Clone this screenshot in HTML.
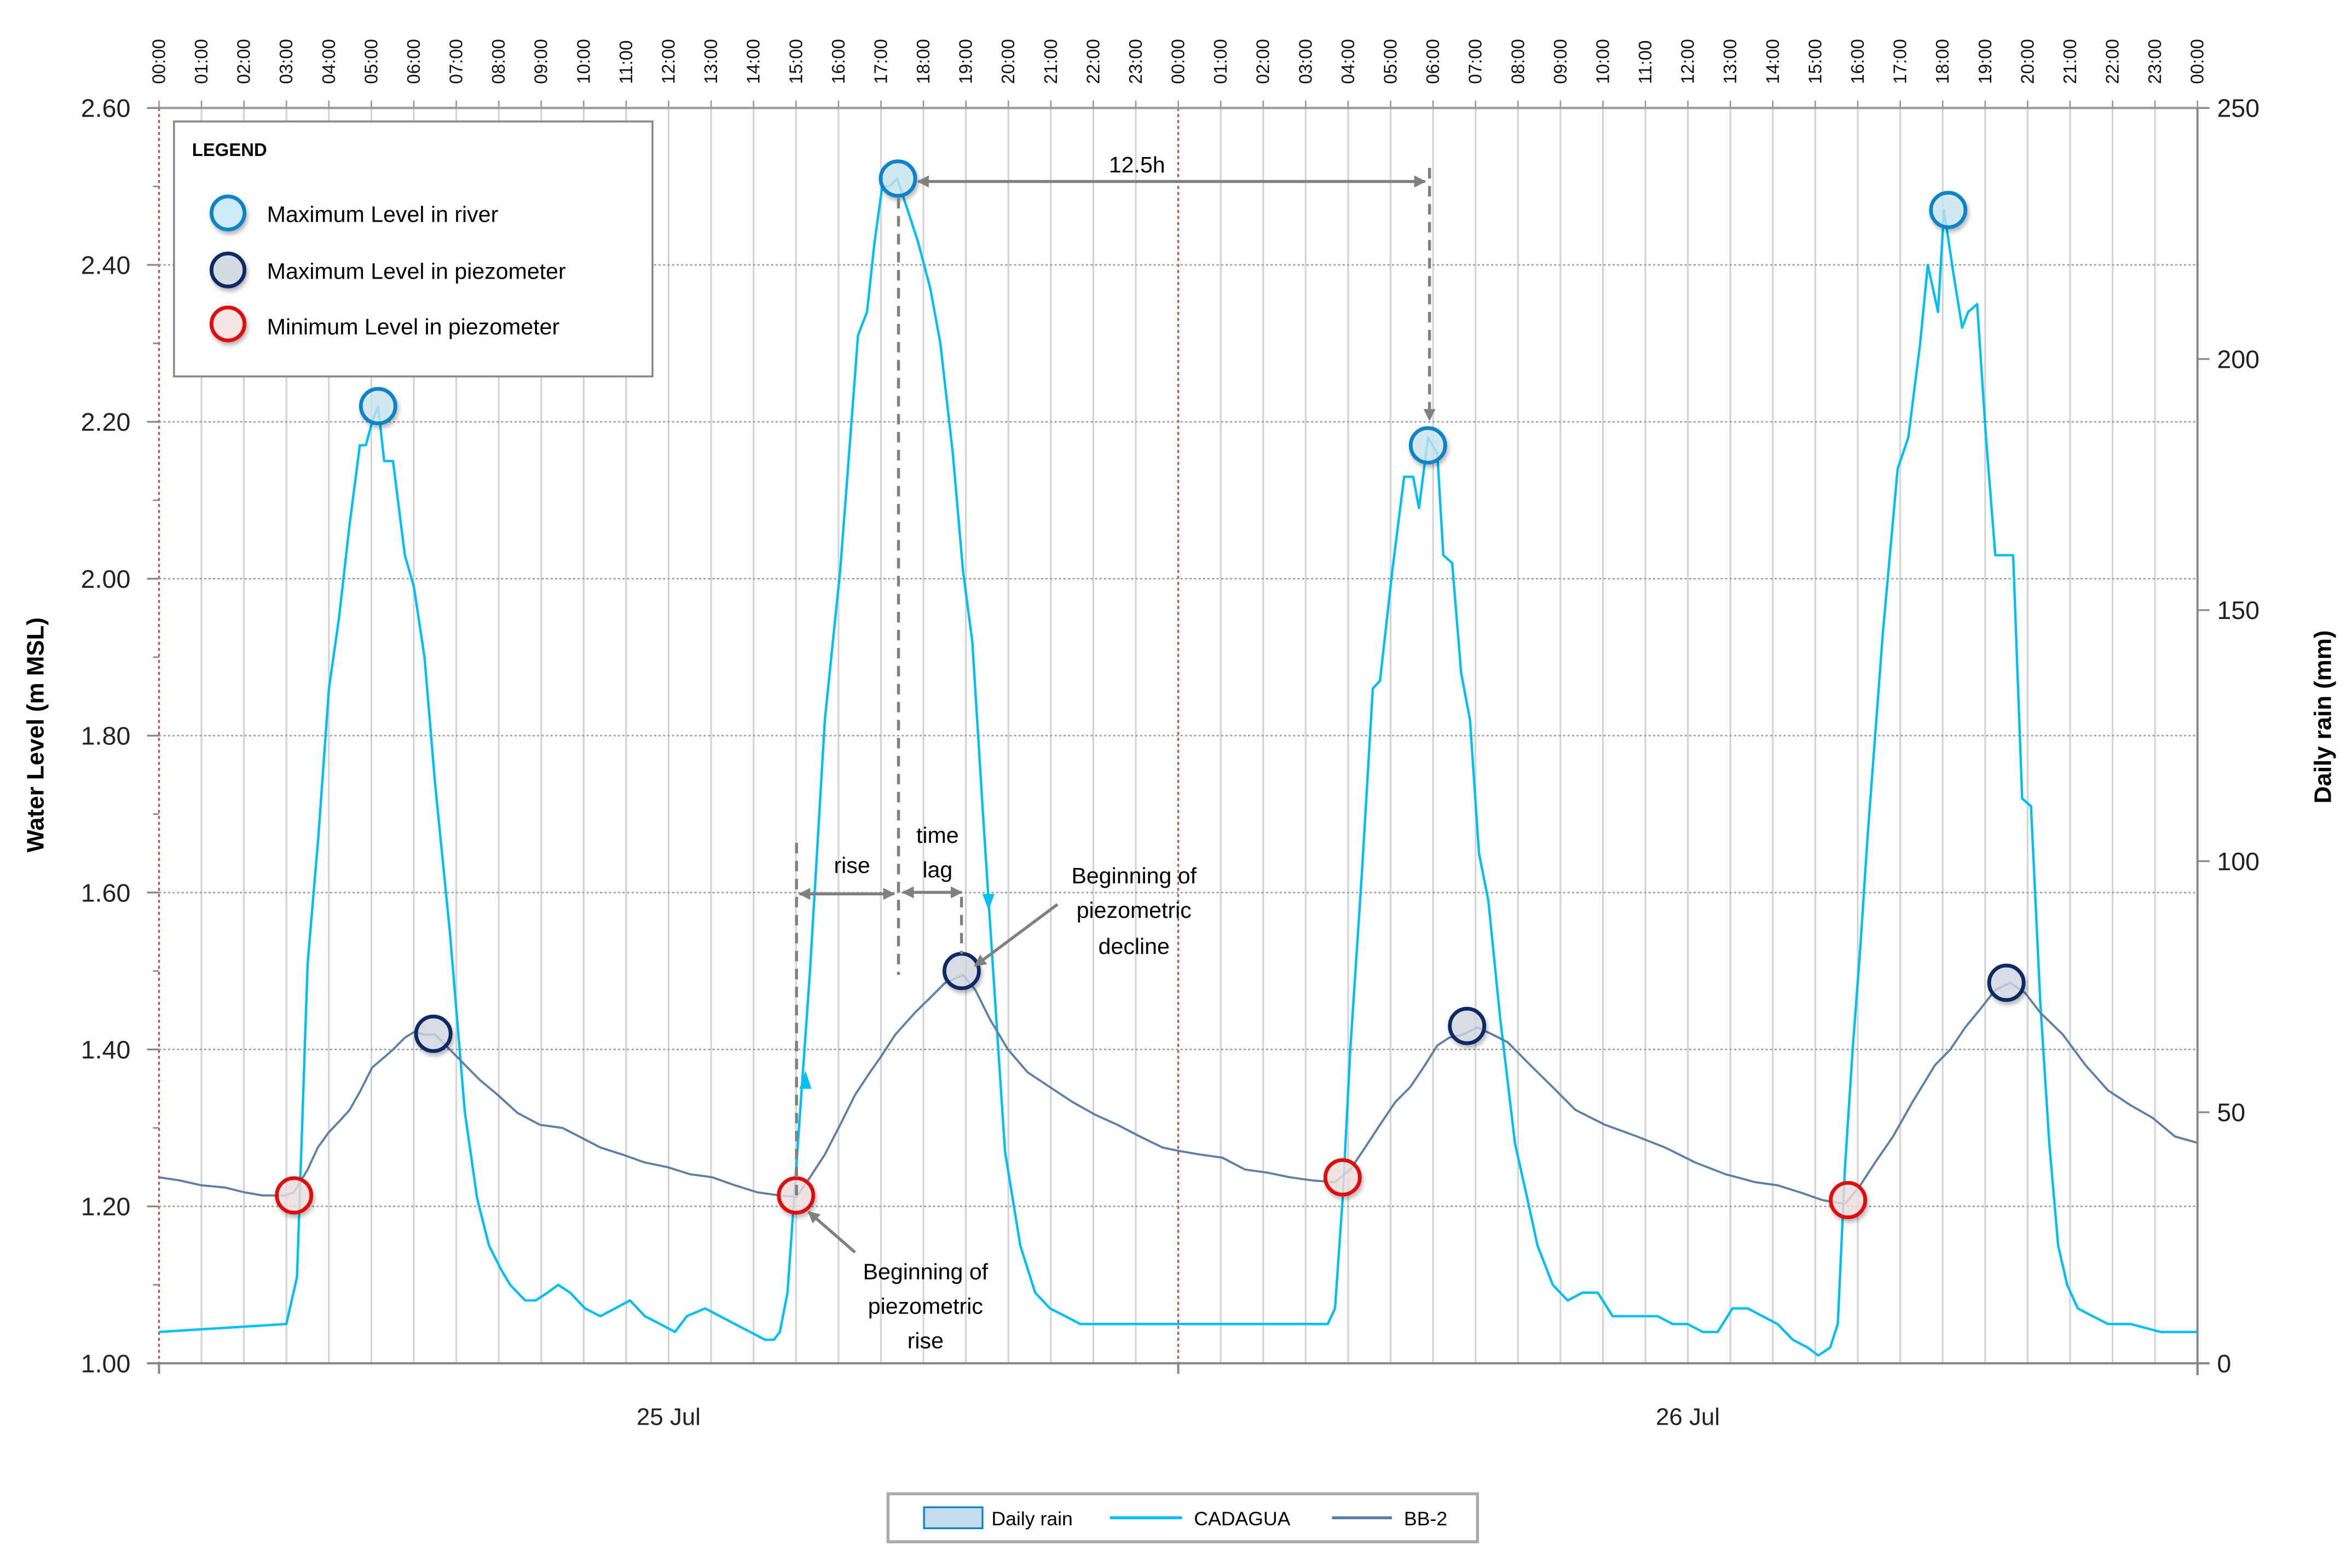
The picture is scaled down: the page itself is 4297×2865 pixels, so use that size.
<!DOCTYPE html>
<html><head><meta charset="utf-8"><style>
html,body{margin:0;padding:0;background:#fff;}
svg{display:block;}
text{font-family:"Liberation Sans",sans-serif;}
</style></head><body>
<svg id="chart" width="4297" height="2865" viewBox="0 0 1568 1045.5" preserveAspectRatio="none" xmlns="http://www.w3.org/2000/svg">
<defs>
<marker id="ga" viewBox="0 0 10 10" refX="9" refY="5" markerWidth="4" markerHeight="4" orient="auto-start-reverse"><path d="M0,0 L10,5 L0,10 z" fill="#808080"/></marker>
<filter id="sh" x="-50%" y="-50%" width="200%" height="200%"><feDropShadow dx="1" dy="2" stdDeviation="1.5" flood-color="#000" flood-opacity="0.3"/></filter>
</defs>
<g id="grid"></g>
<g id="series"></g>
<g id="markers"></g>
<g id="axes"></g>
<g id="annot">
  <line x1="531" y1="562" x2="531" y2="797" stroke="#808080" stroke-width="2" stroke-dasharray="7,5"/>
  <line x1="599" y1="132" x2="599" y2="650" stroke="#808080" stroke-width="2" stroke-dasharray="7,5"/>
  <line x1="641" y1="598" x2="641" y2="636" stroke="#808080" stroke-width="2" stroke-dasharray="7,5"/>
  <line x1="953" y1="112" x2="953" y2="280" stroke="#808080" stroke-width="2" stroke-dasharray="7,5" marker-end="url(#ga)"/>
  <line x1="533" y1="596" x2="596" y2="596" stroke="#808080" stroke-width="2" marker-start="url(#ga)" marker-end="url(#ga)"/>
  <line x1="602" y1="595" x2="641" y2="595" stroke="#808080" stroke-width="2" marker-start="url(#ga)" marker-end="url(#ga)"/>
  <line x1="612" y1="121" x2="950" y2="121" stroke="#808080" stroke-width="2" marker-start="url(#ga)" marker-end="url(#ga)"/>
  <line x1="705" y1="603" x2="650" y2="644" stroke="#808080" stroke-width="2" marker-end="url(#ga)"/>
  <line x1="570" y1="835" x2="539" y2="808" stroke="#808080" stroke-width="2" marker-end="url(#ga)"/>
  <path d="M537,714 L533,726 L541,726 z" fill="#00bff3"/>
  <path d="M659,607 L655,596 L663,596 z" fill="#00bff3"/>
  <text x="568" y="582" font-size="15" text-anchor="middle">rise</text>
  <text x="625" y="562" font-size="15" text-anchor="middle">time</text>
  <text x="625" y="585" font-size="15" text-anchor="middle">lag</text>
  <text x="758" y="115" font-size="15" text-anchor="middle">12.5h</text>
  <text font-size="15" text-anchor="middle"><tspan x="756" y="589">Beginning of</tspan><tspan x="756" y="612">piezometric</tspan><tspan x="756" y="636">decline</tspan></text>
  <text font-size="15" text-anchor="middle"><tspan x="617" y="853">Beginning of</tspan><tspan x="617" y="876">piezometric</tspan><tspan x="617" y="899">rise</tspan></text>
</g>
<g id="legend">
  <rect x="116" y="81" width="319" height="170" fill="#fff" stroke="#888" stroke-width="1.3"/>
  <text x="128" y="104" font-size="12" font-weight="bold">LEGEND</text>
  <circle cx="152" cy="142" r="11" fill="#cdeaf5" stroke="#0a84c8" stroke-width="2.5" filter="url(#sh)"/>
  <text x="178" y="148" font-size="15">Maximum Level in river</text>
  <circle cx="152" cy="180" r="11" fill="#d5dbe5" stroke="#0d2a66" stroke-width="2.5" filter="url(#sh)"/>
  <text x="178" y="186" font-size="15">Maximum Level in piezometer</text>
  <circle cx="152" cy="216" r="11" fill="#f6e3e3" stroke="#e01010" stroke-width="2.5" filter="url(#sh)"/>
  <text x="178" y="223" font-size="15">Minimum Level in piezometer</text>
</g>
<g id="bottom-legend">
  <rect x="592" y="996" width="393" height="32" fill="#fff" stroke="#aaa" stroke-width="2"/>
  <rect x="616" y="1005" width="39" height="14" fill="#c5dcf0" stroke="#0a84c8" stroke-width="1.2"/>
  <text x="661" y="1017" font-size="13">Daily rain</text>
  <line x1="740" y1="1012" x2="788" y2="1012" stroke="#00bff3" stroke-width="2"/>
  <text x="796" y="1017" font-size="13">CADAGUA</text>
  <line x1="888" y1="1012" x2="928" y2="1012" stroke="#5b7fa6" stroke-width="2"/>
  <text x="936" y="1017" font-size="13">BB-2</text>
</g>
</svg>
<script>
// ---- data ----
const cadHours = [0,3.0,3.25,3.5,3.75,4.0,4.24,4.49,4.73,4.87,5.02,5.16,5.3,5.51,5.79,6.0,6.25,6.5,6.85,7.2,7.49,7.77,8.05,8.27,8.62,8.87,9.15,9.4,9.68,10.03,10.39,10.74,11.09,11.44,11.8,12.15,12.43,12.86,13.21,13.56,13.92,14.27,14.48,14.62,14.8,14.98,15.33,15.68,16.04,16.21,16.46,16.67,16.85,17.03,17.2,17.38,17.63,17.87,18.16,18.4,18.69,18.93,19.15,19.39,19.64,19.92,20.28,20.63,20.98,21.34,21.69,22.4,23.1,23.98,24.51,25.57,26.63,27.16,27.52,27.69,27.87,28.05,28.33,28.58,28.75,29.04,29.32,29.53,29.67,29.88,30.1,30.24,30.45,30.66,30.87,31.08,31.3,31.58,31.93,32.22,32.46,32.82,33.17,33.52,33.88,34.23,34.58,34.93,35.29,35.64,35.99,36.35,36.7,37.05,37.41,37.76,38.11,38.47,38.82,39.07,39.35,39.53,39.7,39.88,40.06,40.23,40.59,40.94,41.19,41.47,41.65,41.89,42.03,42.25,42.46,42.6,42.81,43.02,43.24,43.52,43.66,43.87,44.08,44.3,44.51,44.72,44.93,45.18,45.53,45.89,46.42,47.13,48];
const cadLevels = [1.04,1.05,1.11,1.51,1.67,1.86,1.95,2.07,2.17,2.17,2.20,2.22,2.15,2.15,2.03,1.99,1.90,1.74,1.55,1.32,1.21,1.15,1.12,1.10,1.08,1.08,1.09,1.10,1.09,1.07,1.06,1.07,1.08,1.06,1.05,1.04,1.06,1.07,1.06,1.05,1.04,1.03,1.03,1.04,1.09,1.23,1.50,1.82,2.01,2.13,2.31,2.34,2.43,2.50,2.50,2.51,2.47,2.43,2.37,2.30,2.16,2.01,1.92,1.71,1.50,1.27,1.15,1.09,1.07,1.06,1.05,1.05,1.05,1.05,1.05,1.05,1.05,1.05,1.05,1.07,1.21,1.40,1.63,1.86,1.87,2.01,2.13,2.13,2.09,2.18,2.16,2.03,2.02,1.88,1.82,1.65,1.59,1.44,1.28,1.21,1.15,1.10,1.08,1.09,1.09,1.06,1.06,1.06,1.06,1.05,1.05,1.04,1.04,1.07,1.07,1.06,1.05,1.03,1.02,1.01,1.02,1.05,1.25,1.40,1.53,1.67,1.93,2.14,2.18,2.30,2.40,2.34,2.47,2.39,2.32,2.34,2.35,2.18,2.03,2.03,2.03,1.72,1.71,1.46,1.28,1.15,1.10,1.07,1.06,1.05,1.05,1.04,1.04];
const bbHours = [0,0.49,0.99,1.55,2.01,2.44,2.97,3.18,3.5,3.74,3.99,4.24,4.49,4.73,5.02,5.3,5.51,5.79,6.0,6.25,6.5,6.85,7.21,7.56,7.98,8.44,8.97,9.5,9.86,10.39,10.91,11.44,11.97,12.5,13.03,13.56,14.09,14.62,15.01,15.33,15.68,16.04,16.39,16.74,16.99,17.34,17.8,18.16,18.51,18.93,19.22,19.57,19.99,20.45,20.98,21.51,22.04,22.57,23.1,23.63,23.98,24.51,25.04,25.57,26.1,26.63,27.16,27.69,28.05,28.4,28.75,29.11,29.46,29.81,30.1,30.38,30.7,31.05,31.4,31.76,32.29,32.82,33.35,34.05,34.76,35.46,36.17,36.88,37.58,38.11,38.64,39.17,39.7,40.06,40.41,40.83,41.29,41.82,42.18,42.53,42.88,43.24,43.59,43.94,44.3,44.83,45.36,45.89,46.42,46.94,47.47,48];
const bbLevels = [1.237,1.233,1.227,1.224,1.218,1.214,1.214,1.218,1.247,1.275,1.294,1.308,1.323,1.346,1.377,1.39,1.40,1.415,1.422,1.419,1.419,1.40,1.38,1.361,1.342,1.319,1.304,1.30,1.29,1.275,1.266,1.256,1.25,1.241,1.237,1.227,1.218,1.214,1.212,1.237,1.266,1.304,1.342,1.371,1.39,1.419,1.447,1.466,1.485,1.495,1.476,1.438,1.40,1.371,1.352,1.333,1.317,1.304,1.289,1.275,1.271,1.266,1.262,1.247,1.243,1.237,1.233,1.231,1.247,1.275,1.304,1.333,1.352,1.38,1.405,1.415,1.419,1.428,1.419,1.409,1.38,1.352,1.323,1.304,1.29,1.275,1.256,1.241,1.231,1.227,1.218,1.208,1.203,1.227,1.256,1.289,1.333,1.38,1.40,1.428,1.451,1.476,1.485,1.472,1.447,1.419,1.38,1.348,1.329,1.313,1.289,1.281];
const riverMaxH = [5.16,17.4,29.88,42.13];
const riverMaxV = [2.22,2.51,2.17,2.47];
const piezoMaxH = [6.46,18.9,30.8,43.5];
const piezoMaxV = [1.42,1.50,1.43,1.485];
const piezoMinH = [3.18,15.0,27.87,39.77];
const piezoMinV = [1.214,1.214,1.237,1.208];
const leftTicks = ["1.00","1.20","1.40","1.60","1.80","2.00","2.20","2.40","2.60"];
const rightTicks = ["0","50","100","150","200","250"];
const dayLabels = ["25 Jul","26 Jul"];

// ---- scales ----
const X0=106, X1=1465, Y0=909, Y1=72;
const xs = h => X0 + (X1-X0)*h/48;
const ys = v => Y0 - (Y0-Y1)*(v-1.0)/1.6;
const yr = mm => Y0 - (Y0-Y1)*mm/250;
const NS="http://www.w3.org/2000/svg";
function mk(tag, parent, attrs){const e=document.createElementNS(NS,tag);for(const k in attrs)e.setAttribute(k,attrs[k]);parent.appendChild(e);return e;}
const grid=document.getElementById('grid'), axes=document.getElementById('axes'), series=document.getElementById('series'), markers=document.getElementById('markers');

for(let h=0;h<=48;h++){
  const x=xs(h);
  if(h%24===0){ const l=mk('line',grid,{x1:x,y1:Y1,x2:x,y2:Y0,stroke:'#c0504d','stroke-width':1.2,'stroke-dasharray':'2,2'});   }
  else { const l=mk('line',grid,{x1:x,y1:Y1,x2:x,y2:Y0,stroke:'#d4d4d4','stroke-width':1.2});   }
  const hh=String(h%24).padStart(2,'0')+':00';
  const t=mk('text',axes,{x:0,y:0,'font-size':12,'text-anchor':'start','font-family':'Liberation Mono, monospace',fill:'#111'});
  
  
  t.setAttribute('transform',`translate(${x+4},56) rotate(-90)`);
  t.textContent=hh;
  mk('line',axes,{x1:x,y1:Y1,x2:x,y2:Y1-5,stroke:'#999','stroke-width':1});
}
leftTicks.forEach(s=>{
  const v=parseFloat(s), y=ys(v);
  if(v>1.0 && v<2.6){ const l=mk('line',grid,{x1:X0,y1:y,x2:X1,y2:y,stroke:'#a0a0a0','stroke-width':1,'stroke-dasharray':'1.5,1.5'});   }
  mk('line',axes,{x1:X0-8,y1:y,x2:X0,y2:y,stroke:'#888','stroke-width':1.2});
  const t=mk('text',axes,{x:87,y:y+6,'font-size':17,'text-anchor':'end',fill:'#222'});
  
  
  t.textContent=s;
});
for(let i=0;i<8;i++){const y=ys(1.1+0.2*i); mk('line',axes,{x1:X0-4,y1:y,x2:X0,y2:y,stroke:'#888','stroke-width':1});}
rightTicks.forEach(s=>{
  const y=yr(parseFloat(s));
  mk('line',axes,{x1:X1,y1:y,x2:X1+8,y2:y,stroke:'#888','stroke-width':1.2});
  const t=mk('text',axes,{x:1478,y:y+6,'font-size':17,fill:'#222'});
  
  
  t.textContent=s;
});
mk('line',axes,{x1:X0,y1:Y1,x2:X1,y2:Y1,stroke:'#999','stroke-width':1.5});
mk('line',axes,{x1:X0-8,y1:Y0,x2:X1+8,y2:Y0,stroke:'#888','stroke-width':1.5});
mk('line',axes,{x1:X1,y1:Y1,x2:X1,y2:Y0+8,stroke:'#888','stroke-width':1.5});
[0,24,48].forEach(h=>mk('line',axes,{x1:xs(h),y1:Y0,x2:xs(h),y2:Y0+7,stroke:'#888','stroke-width':1.5}));
dayLabels.forEach((s,i)=>{
  const t=mk('text',axes,{x:xs(12+24*i),y:950,'font-size':16,'text-anchor':'middle',fill:'#222'});
  
  
  t.textContent=s;
});
const lt=mk('text',axes,{x:0,y:0,'font-size':16,'font-weight':'bold','text-anchor':'middle',transform:'translate(29,490) rotate(-90)'});


lt.textContent='Water Level (m MSL)';
const rt=mk('text',axes,{x:0,y:0,'font-size':16,'font-weight':'bold','text-anchor':'middle',transform:'translate(1554,478) rotate(-90)'});


rt.textContent='Daily rain (mm)';

function pts(H,V){return H.map((h,i)=>xs(h).toFixed(1)+','+ys(V[i]).toFixed(1)).join(' ');}
const cad=mk('polyline',series,{points:pts(cadHours,cadLevels),fill:'none',stroke:'#00bff3','stroke-width':1.6,'stroke-linejoin':'round'});


const bb=mk('polyline',series,{points:pts(bbHours,bbLevels),fill:'none',stroke:'#5b7fa6','stroke-width':1.4,'stroke-linejoin':'round'});



function circ(H,V,fill,stroke,name){
  H.forEach((h,i)=>{
    const c=mk('circle',markers,{cx:xs(h),cy:ys(V[i]),r:11.5,fill:fill,'fill-opacity':0.75,stroke:stroke,'stroke-width':2.5,filter:'url(#sh)'});
    
    
  });
}
circ(riverMaxH,riverMaxV,'#cdeaf5','#0a84c8','river-max-marker');
circ(piezoMaxH,piezoMaxV,'#d5dbe5','#0d2a66','piezo-max-marker');
circ(piezoMinH,piezoMinV,'#f6e3e3','#e01010','piezo-min-marker');
</script>
</body></html>
